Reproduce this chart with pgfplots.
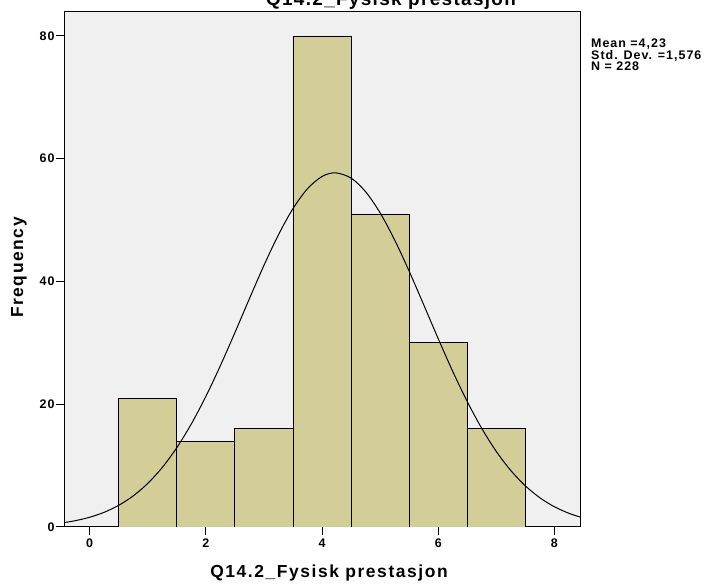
\documentclass[border=0pt]{standalone}
\usepackage{pgfplots}
\pgfplotsset{compat=1.18}
\usepackage{fontspec}
\setmainfont{Liberation Sans}
\newfontfamily\tickfont[LetterSpace=8]{Liberation Sans}
\newfontfamily\statfont[LetterSpace=8]{Liberation Sans}
\newfontfamily\labfont[LetterSpace=9]{Liberation Sans}
\newfontfamily\titfont[LetterSpace=7]{Liberation Sans}
\definecolor{barfill}{RGB}{211,206,152}
\definecolor{bggray}{RGB}{240,240,240}
\begin{document}
\begin{tikzpicture}[x=1bp,y=1bp]
\begin{axis}[
  at={(64bp,61bp)}, anchor=south west,
  scale only axis, width=516bp, height=515bp,
  xmin=-0.44, xmax=8.44, ymin=0, ymax=83.9,
  axis background/.style={fill=bggray},
  axis line style={black, line width=1pt},
  xtick={0,2,4,6,8}, ytick={0,20,40,60,80},
  tick align=outside, major tick length=8bp,
  tick style={black, line width=1pt},
  xtick pos=bottom, ytick pos=left,
  /pgf/number format/assume math mode=true,
  ticklabel style={font=\tickfont\bfseries\fontsize{12.5}{14}\selectfont},
  yticklabel style={xshift=2bp},
  xlabel={Q14.2\_Fysisk prestasjon},
  ylabel={Frequency},
  label style={font=\labfont\bfseries\fontsize{17.5}{20}\selectfont},
  xlabel style={yshift=-11bp, xshift=7bp},
  ylabel style={yshift=6bp, xshift=2bp},
  clip=true,
]
\addplot[ybar interval, fill=barfill, draw=black, line width=0.75pt]
coordinates {(0.5,21) (1.5,14) (2.5,16) (3.5,80) (4.5,51) (5.5,30) (6.5,16) (7.5,0)};
\addplot[black, line width=1pt, smooth] coordinates {
(-0.44,0.720) (-0.25,1.021) (0,1.582) (0.25,2.390) (0.5,3.521) (0.75,5.060)
(1.0,7.089) (1.25,9.687) (1.5,12.907) (1.75,16.771) (2.0,21.251) (2.25,26.258)
(2.5,31.639) (2.75,37.176) (3.0,42.598) (3.25,47.597) (3.5,51.862) (3.75,55.106)
(4.0,57.099) (4.2281,57.700) (4.5,56.848) (4.75,54.623) (5.0,51.181) (5.25,46.765)
(5.5,41.670) (5.75,36.206) (6.0,30.679) (6.25,25.349) (6.5,20.425) (6.75,16.046)
(7.0,12.296) (7.25,9.188) (7.5,6.694) (7.75,4.757) (8.0,3.295) (8.25,2.227) (8.44,1.625)
};
\end{axis}
\node[anchor=base, font=\titfont\bfseries\fontsize{19}{21}\selectfont] at (391,582) {Q14.2\_Fysisk prestasjon};
\begin{scope}[every node/.style={anchor=base west, inner sep=0pt, font=\statfont\bfseries\fontsize{12.5}{13}\selectfont}]
\node at (591,540) {Mean =4,23};
\node at (591,528.5) {Std. Dev. =1,576};
\node at (591,517) {N = 228};
\end{scope}
\pgfresetboundingbox
\useasboundingbox (0,0) rectangle (709,588);
\end{tikzpicture}
\end{document}
